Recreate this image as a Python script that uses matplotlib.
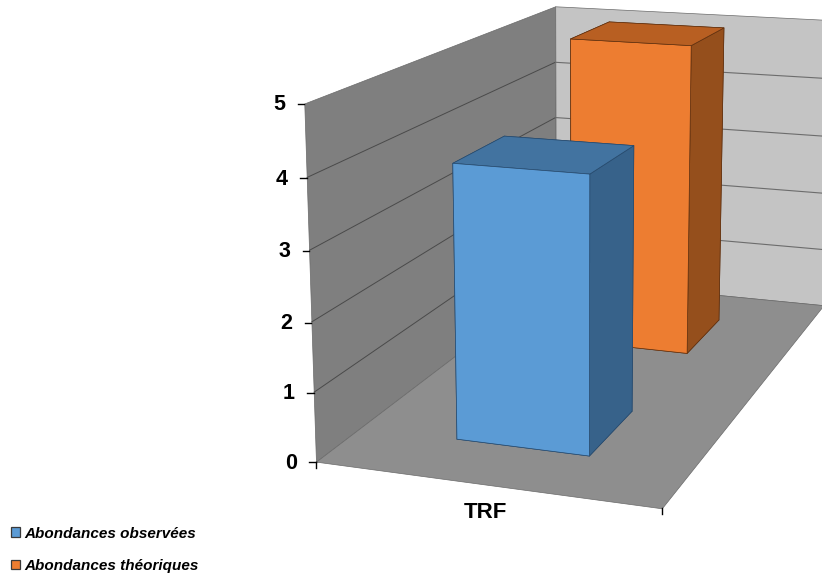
import matplotlib
matplotlib.use("Agg")
import matplotlib.pyplot as plt
import numpy as np
from matplotlib.lines import Line2D
from matplotlib.patches import Patch
from mpl_toolkits.mplot3d.art3d import Line3DCollection, Poly3DCollection

plt.rcParams["font.family"] = ["Liberation Sans", "DejaVu Sans"]

categories = ["TRF"]
series_names = ["Abondances observées", "Abondances théoriques"]
series_values = [4, 5]
value_ticks = [0, 1, 2, 3, 4, 5]

# face colours per series: bottom, top, front, back, left, right
_FACES = [
    ["#5b9bd5", "#4273a0", "#5b9bd5", "#5b9bd5", "#5b9bd5", "#37628a"],
    ["#ed7d31", "#b85f22", "#ed7d31", "#ed7d31", "#ed7d31", "#954f1c"],
]
_EDGES = ["#27496b", "#5e3010"]
_SWATCH = ["#5b9bd5", "#ed7d31"]
_W, _H = 822, 574

# camera: maps (category, depth, value) to reference pixels
_CAMERA = np.array([
    [306.68, 422.37, -4.93, 315.97],
    [16.60, -90.96, -72.52, 461.64],
    [-0.05914, 0.32805, -0.00852, 1.0],
])


def project(x, y, z):
    q = _CAMERA @ [x, y, z, 1]
    return q[0] / q[2], q[1] / q[2]


def fig_xy(u, v):
    return u / _W, 1 - v / _H


fig = plt.figure(figsize=(_W / 100, _H / 100), dpi=100)
ax = fig.add_axes([0, 0, 1, 1], projection="3d")
ax.set_axis_off()
ax.computed_zorder = False


def _get_proj():
    # same camera, in the 2D units of the 3D axes
    inv = ax.transData.inverted()
    o = inv.transform((0, _H))
    e = inv.transform((1, _H - 1))
    s = e - o
    row_x = s[0] * _CAMERA[0] + o[0] * _CAMERA[2]
    row_y = s[1] * _CAMERA[1] + o[1] * _CAMERA[2]
    depth = np.array([-0.3, 1.0, -0.05, 0.0])
    return np.array([row_x, row_y, depth, _CAMERA[2]])


ax.get_proj = _get_proj

zmax = value_ticks[-1]
walls = [
    ([(0, 0, 0), (0, 1, 0), (0, 1, zmax), (0, 0, zmax)], "#7f7f7f"),
    ([(0, 1, 0), (1, 1, 0), (1, 1, zmax), (0, 1, zmax)], "#c4c4c4"),
    ([(0, 0, 0), (1, 0, 0), (1, 1, 0), (0, 1, 0)], "#8e8e8e"),
]
for verts, color in walls:
    ax.add_collection3d(Poly3DCollection([verts], facecolors=color, edgecolors="#6a6a6a",
                                         linewidths=0.5, zorder=1))

left_grid = [[(0, 0, v), (0, 1, v)] for v in value_ticks[1:-1]]
back_grid = [[(0, 1, v), (1, 1, v)] for v in value_ticks[1:-1]]
ax.add_collection3d(Line3DCollection(left_grid, colors="#4a4a4a", linewidths=0.7, zorder=2))
ax.add_collection3d(Line3DCollection(back_grid, colors="#6c6c6c", linewidths=0.8, zorder=2))

bar_y = [0.15, 0.65]
for i, val in enumerate(series_values):
    ax.bar3d(0.30, bar_y[i], 0, 0.40, 0.20, val, color=_FACES[i], edgecolor=_EDGES[i],
             linewidth=0.5, shade=False, zorder=4 - i)

for art in ax.collections:
    art.set_clip_on(False)

# value axis ticks and labels
for v in value_ticks:
    u, w = project(0, 0, v)
    xs, ys = zip(fig_xy(u - 6.5, w + 0.5), fig_xy(u, w + 0.5))
    fig.add_artist(Line2D(xs, ys, color="black", lw=1.0))
    tx, ty = fig_xy(u - 19, w + 1.5)
    fig.text(tx, ty, str(v), fontsize=15.5, fontweight="bold", ha="right", va="center")

# category axis ticks and label
for x in [0, 1]:
    u, w = project(x, 0, 0)
    xs, ys = zip(fig_xy(u, w), fig_xy(u, w + 6))
    fig.add_artist(Line2D(xs, ys, color="black", lw=1.0))
tx, ty = fig_xy(485, 513)
fig.text(tx, ty, categories[0], fontsize=16, fontweight="bold", ha="center", va="center")

handles = [Patch(facecolor=c, edgecolor="#3a3a3a", linewidth=0.9) for c in _SWATCH]
fig.legend(handles, series_names, loc="lower left", bbox_to_anchor=(0.006, -0.0087), frameon=False,
           prop={"size": 11, "weight": "bold", "style": "italic"},
           handlelength=0.6, handleheight=0.6, handletextpad=0.25, labelspacing=1.19,
           borderpad=0.4, borderaxespad=0.0)

fig.savefig("out.png", dpi=100)
